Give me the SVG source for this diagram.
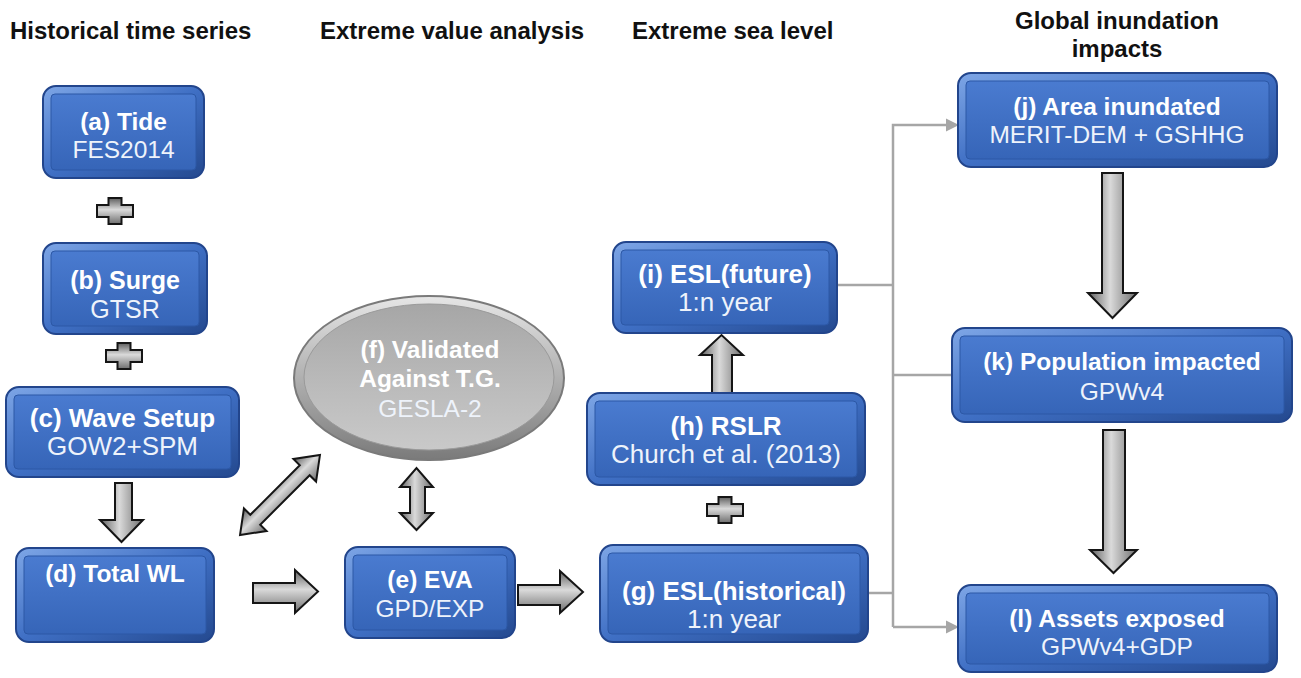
<svg xmlns="http://www.w3.org/2000/svg" width="1301" height="678" viewBox="0 0 1301 678">
<defs>
<linearGradient id="bev" x1="0" y1="0" x2="1" y2="1">
<stop offset="0" stop-color="#7ea6e6"/>
<stop offset="0.5" stop-color="#3f6fc4"/>
<stop offset="1" stop-color="#24498f"/>
</linearGradient>
<linearGradient id="face" x1="0" y1="0" x2="0" y2="1">
<stop offset="0" stop-color="#4a7bd0"/>
<stop offset="1" stop-color="#3665b8"/>
</linearGradient>
<linearGradient id="ellOut" x1="0" y1="0" x2="0" y2="1">
<stop offset="0" stop-color="#e6e6e6"/>
<stop offset="1" stop-color="#7a7a7a"/>
</linearGradient>
<linearGradient id="ellIn" x1="0" y1="0" x2="0" y2="1">
<stop offset="0" stop-color="#a6a6a6"/>
<stop offset="0.6" stop-color="#bcbcbc"/>
<stop offset="1" stop-color="#c9c9c9"/>
</linearGradient>
<linearGradient id="gH" x1="0" y1="0" x2="1" y2="0">
<stop offset="0" stop-color="#5e5e5e"/>
<stop offset="0.45" stop-color="#dadada"/>
<stop offset="1" stop-color="#6e6e6e"/>
</linearGradient>
<linearGradient id="gV" x1="0" y1="0" x2="0" y2="1">
<stop offset="0" stop-color="#5e5e5e"/>
<stop offset="0.45" stop-color="#dadada"/>
<stop offset="1" stop-color="#6e6e6e"/>
</linearGradient>
<marker id="ah" viewBox="0 0 12 12" refX="0" refY="6" markerWidth="13" markerHeight="14" markerUnits="userSpaceOnUse" orient="auto">
<path d="M0,0 L12,6 L0,12 Z" fill="#a6a6a6"/>
</marker>
<style>
.hdr{font-family:"Liberation Sans",Arial,sans-serif;font-weight:bold;font-size:24px;fill:#111}
.o{fill:url(#bev);stroke:#22458c;stroke-width:2}
.f{fill:url(#face);stroke:#2c58a6;stroke-width:1}
.t1{font-family:"Liberation Sans",Arial,sans-serif;font-weight:bold;fill:#ffffff;text-anchor:middle}
.t2{font-family:"Liberation Sans",Arial,sans-serif;fill:#eef3fb;text-anchor:middle}
.blk{stroke:#151515;stroke-width:2;stroke-linejoin:miter}
.bh{fill:url(#gV)}
.bv{fill:url(#gH)}
.con{fill:none;stroke:#a6a6a6;stroke-width:2.5}
</style>
</defs>
<rect width="1301" height="678" fill="#ffffff"/>

<g id="headers">
<text class="hdr" x="10" y="39">Historical time series</text>
<text class="hdr" x="320" y="39">Extreme value analysis</text>
<text class="hdr" x="632" y="39">Extreme sea level</text>
<text class="hdr" x="1117" y="29" text-anchor="middle" font-size="23">Global inundation</text>
<text class="hdr" x="1117" y="57" text-anchor="middle" font-size="23">impacts</text>
</g>

<g id="connectors">
<path class="con" d="M837,285 H893"/>
<path class="con" d="M868,593 H893"/>
<path class="con" d="M893,375 H952"/>
<path class="con" d="M893,627 V125 H946" marker-end="url(#ah)"/>
<path class="con" d="M893,627 H946" marker-end="url(#ah)"/>
<path class="blk bv" d="M115,483 H132 V520 H143 L121.5,542 L100,520 H115 Z"/>
<path class="blk bv" d="M1102,173 H1123 V293 H1137 L1112.5,318 L1088,293 H1102 Z"/>
<path class="blk bv" d="M1103,430 H1125 V550 H1137 L1113.5,573 L1090,550 H1103 Z"/>
<path class="blk bv" d="M712,395 V355 H700 L721.5,335 L743,355 H732 V395 Z"/>
<path class="blk bh" d="M253,583 H295 V570 L318,591.5 L295,613 V603 H253 Z"/>
<path class="blk bh" d="M518,585 H560 V571 L583,592 L560,613 V605 H518 Z"/>
<path class="blk bv" d="M410,487 H400 L416.5,468 L433,487 H425 V513 H433 L416.5,530 L400,513 H410 Z"/>
<path class="blk bh" transform="translate(280,495) rotate(-45)" d="M-56.5,0 L-35,-16 V-7 H35 V-16 L56.5,0 L35,16 V7 H-35 V16 Z"/>
<path class="blk bh" transform="translate(115,211)" d="M-6.5,-13 H6.5 V-6 H18 V6 H6.5 V13 H-6.5 V6 H-18 V-6 H-6.5 Z"/>
<path class="blk bh" transform="translate(124,356)" d="M-6.5,-13 H6.5 V-6 H18 V6 H6.5 V13 H-6.5 V6 H-18 V-6 H-6.5 Z"/>
<path class="blk bh" transform="translate(725,510)" d="M-6.5,-13 H6.5 V-6 H18 V6 H6.5 V13 H-6.5 V6 H-18 V-6 H-6.5 Z"/>
</g>

<g id="node-a">
<rect class="o" x="43" y="86" width="161" height="92" rx="13"/>
<rect class="f" x="51" y="94" width="145" height="76" rx="4"/>
<text class="t1" x="123.5" y="130" font-size="24.5">(a) Tide</text>
<text class="t2" x="123.5" y="158" font-size="24.5">FES2014</text>
</g>
<g id="node-b">
<rect class="o" x="43" y="243" width="164" height="91" rx="13"/>
<rect class="f" x="51" y="251" width="148" height="75" rx="4"/>
<text class="t1" x="125" y="289" font-size="25">(b) Surge</text>
<text class="t2" x="125" y="318" font-size="25">GTSR</text>
</g>
<g id="node-c">
<rect class="o" x="6" y="387" width="233" height="90" rx="13"/>
<rect class="f" x="14" y="395" width="217" height="74" rx="4"/>
<text class="t1" x="122.5" y="427" font-size="26">(c) Wave Setup</text>
<text class="t2" x="122.5" y="455" font-size="26">GOW2+SPM</text>
</g>
<g id="node-d">
<rect class="o" x="16" y="548" width="198" height="94" rx="13"/>
<rect class="f" x="24" y="556" width="182" height="78" rx="4"/>
<text class="t1" x="115" y="582" font-size="24.5">(d) Total WL</text>
</g>
<g id="node-e">
<rect class="o" x="345" y="547" width="170" height="91" rx="13"/>
<rect class="f" x="353" y="555" width="154" height="75" rx="4"/>
<text class="t1" x="430" y="588" font-size="24.5">(e) EVA</text>
<text class="t2" x="430" y="617" font-size="24.5">GPD/EXP</text>
</g>
<g id="node-f">
<ellipse cx="429" cy="378" rx="135" ry="82" fill="url(#ellOut)" stroke="#7a7a7a" stroke-width="2"/>
<ellipse cx="429" cy="377" rx="125" ry="73" fill="url(#ellIn)" stroke="#9a9a9a" stroke-width="1"/>
<text class="t1" x="430" y="358" font-size="24.5" fill="#f4f4f4">(f) Validated</text>
<text class="t1" x="430" y="387" font-size="24.5" fill="#f4f4f4">Against T.G.</text>
<text class="t2" x="430" y="417" font-size="24.5" fill="#f0f0f0">GESLA-2</text>
</g>
<g id="node-g">
<rect class="o" x="600" y="545" width="268" height="97" rx="13"/>
<rect class="f" x="608" y="553" width="252" height="81" rx="4"/>
<text class="t1" x="734" y="600" font-size="26">(g) ESL(historical)</text>
<text class="t2" x="734" y="628" font-size="26">1:n year</text>
</g>
<g id="node-h">
<rect class="o" x="587" y="393" width="278" height="92" rx="13"/>
<rect class="f" x="595" y="401" width="262" height="76" rx="4"/>
<text class="t1" x="726" y="435" font-size="26">(h) RSLR</text>
<text class="t2" x="726" y="463" font-size="26">Church et al. (2013)</text>
</g>
<g id="node-i">
<rect class="o" x="613" y="242" width="224" height="91" rx="13"/>
<rect class="f" x="621" y="250" width="208" height="75" rx="4"/>
<text class="t1" x="725" y="283" font-size="26">(i) ESL(future)</text>
<text class="t2" x="725" y="311" font-size="26">1:n year</text>
</g>
<g id="node-j">
<rect class="o" x="958" y="73" width="319" height="94" rx="13"/>
<rect class="f" x="966" y="81" width="303" height="78" rx="4"/>
<text class="t1" x="1117" y="115" font-size="24.5">(j) Area inundated</text>
<text class="t2" x="1117" y="143" font-size="24.5">MERIT-DEM + GSHHG</text>
</g>
<g id="node-k">
<rect class="o" x="952" y="328" width="340" height="94" rx="13"/>
<rect class="f" x="960" y="336" width="324" height="78" rx="4"/>
<text class="t1" x="1122" y="370" font-size="24.5">(k) Population impacted</text>
<text class="t2" x="1122" y="400" font-size="24.5">GPWv4</text>
</g>
<g id="node-l">
<rect class="o" x="958" y="585" width="319" height="87" rx="13"/>
<rect class="f" x="966" y="593" width="303" height="71" rx="4"/>
<text class="t1" x="1117" y="627" font-size="24.5">(l) Assets exposed</text>
<text class="t2" x="1117" y="655" font-size="24.5">GPWv4+GDP</text>
</g>
</svg>
